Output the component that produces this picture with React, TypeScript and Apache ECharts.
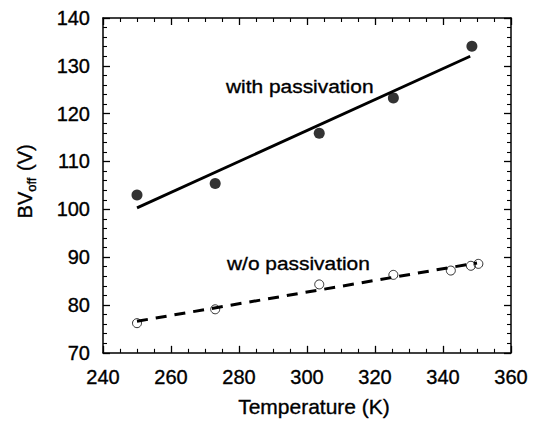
import React, { useEffect, useRef } from "react";
import * as echarts from "echarts";

const withTemps = [250, 273, 303.6, 325.4, 348.5];
const withBV = [103, 105.4, 115.9, 123.3, 134.1];
const withFitT = [250, 348];
const withFitBV = [100.3, 132];

const woTemps = [250, 273, 303.6, 325.4, 342.3, 348.2, 350.4];
const woBV = [76.2, 79.1, 84.3, 86.3, 87.2, 88.2, 88.6];
const woFitT = [250, 350];
const woFitBV = [76.6, 88.8];

const FONT = "Liberation Sans, Arial, sans-serif";
const STROKE = { textBorderColor: "#000", textBorderWidth: 0.35 };

export default function App() {
  const ref = useRef<HTMLDivElement>(null);
  useEffect(() => {
    if (!ref.current) return;
    const chart = echarts.init(ref.current, undefined, { renderer: "svg" });
    const tick = { show: true, inside: true, length: 7, lineStyle: { color: "#000", width: 1.3 } };
    const minor = (n: number) => ({ show: true, splitNumber: n, length: 4, lineStyle: { color: "#000", width: 1.1 } });
    const axisLine = { show: true, onZero: false, lineStyle: { color: "#000", width: 1.5 } };
    const label = { color: "#000", fontSize: 20, fontFamily: FONT, ...STROKE };
    const zip = (a: number[], b: number[]) => a.map((v, i) => [v, b[i]]);
    const annot = (text: string, x: number, y: number) => ({
      type: "text", x, y, scaleX: 1.1, scaleY: 1,
      style: {
        text, fontSize: 19, fontFamily: FONT, fill: "#000", stroke: "#000", lineWidth: 0.35,
        align: "left", verticalAlign: "top",
      },
    });
    chart.setOption({
      animation: false,
      backgroundColor: "#fff",
      grid: { left: 103, right: 24, top: 18, bottom: 65 },
      xAxis: [
        {
          type: "value", min: 240, max: 360, interval: 20,
          axisLine, axisTick: tick, minorTick: minor(4),
          axisLabel: { ...label, margin: 14 },
          splitLine: { show: false },
          name: "Temperature (K)", nameLocation: "middle", nameGap: 43,
          nameTextStyle: { color: "#000", fontSize: 21, fontFamily: FONT, padding: [0, 0, 0, 14], ...STROKE },
        },
        {
          type: "value", position: "top", min: 240, max: 360, interval: 20,
          axisLine, axisTick: tick, minorTick: minor(4),
          axisLabel: { show: false }, splitLine: { show: false },
        },
      ],
      yAxis: [
        {
          type: "value", min: 70, max: 140, interval: 10,
          axisLine, axisTick: tick, minorTick: minor(5),
          axisLabel: { ...label, margin: 13 },
          splitLine: { show: false },
          name: "{a|BV}{b|off}{a| (V)}", nameLocation: "middle", nameGap: 65, nameRotate: 90,
          nameTextStyle: {
            color: "#000", fontFamily: FONT, padding: [0, 0, 0, 8],
            rich: {
              a: { fontSize: 20, fontFamily: FONT, color: "#000", lineHeight: 26, verticalAlign: "middle", ...STROKE },
              b: { fontSize: 13, fontFamily: FONT, color: "#000", lineHeight: 26, verticalAlign: "bottom", padding: [0, 1, 0, 0], ...STROKE },
            },
          },
        },
        {
          type: "value", position: "right", min: 70, max: 140, interval: 10,
          axisLine, axisTick: tick, minorTick: minor(5),
          axisLabel: { show: false }, splitLine: { show: false },
        },
      ],
      graphic: [annot("with passivation", 226, 77), annot("w/o passivation", 227, 254)],
      series: [
        {
          type: "line", data: zip(withFitT, withFitBV), symbol: "none",
          lineStyle: { color: "#000", width: 2.8 }, z: 2,
        },
        {
          type: "line", data: zip(woFitT, woFitBV), symbol: "none",
          lineStyle: { color: "#000", width: 3, type: [11, 8] }, z: 2,
        },
        {
          type: "scatter", data: zip(withTemps, withBV), symbol: "circle", symbolSize: 11,
          itemStyle: { color: "#000" }, z: 3,
        },
        {
          type: "scatter", data: zip(woTemps, woBV), symbol: "circle", symbolSize: 9,
          itemStyle: { color: "rgba(255,255,255,0)", borderColor: "#000", borderWidth: 1 }, z: 3,
        },
      ],
    });
    return () => chart.dispose();
  }, []);
  return <div ref={ref} style={{ position: "fixed", left: 0, top: 0, width: 535, height: 422 }} />;
}
